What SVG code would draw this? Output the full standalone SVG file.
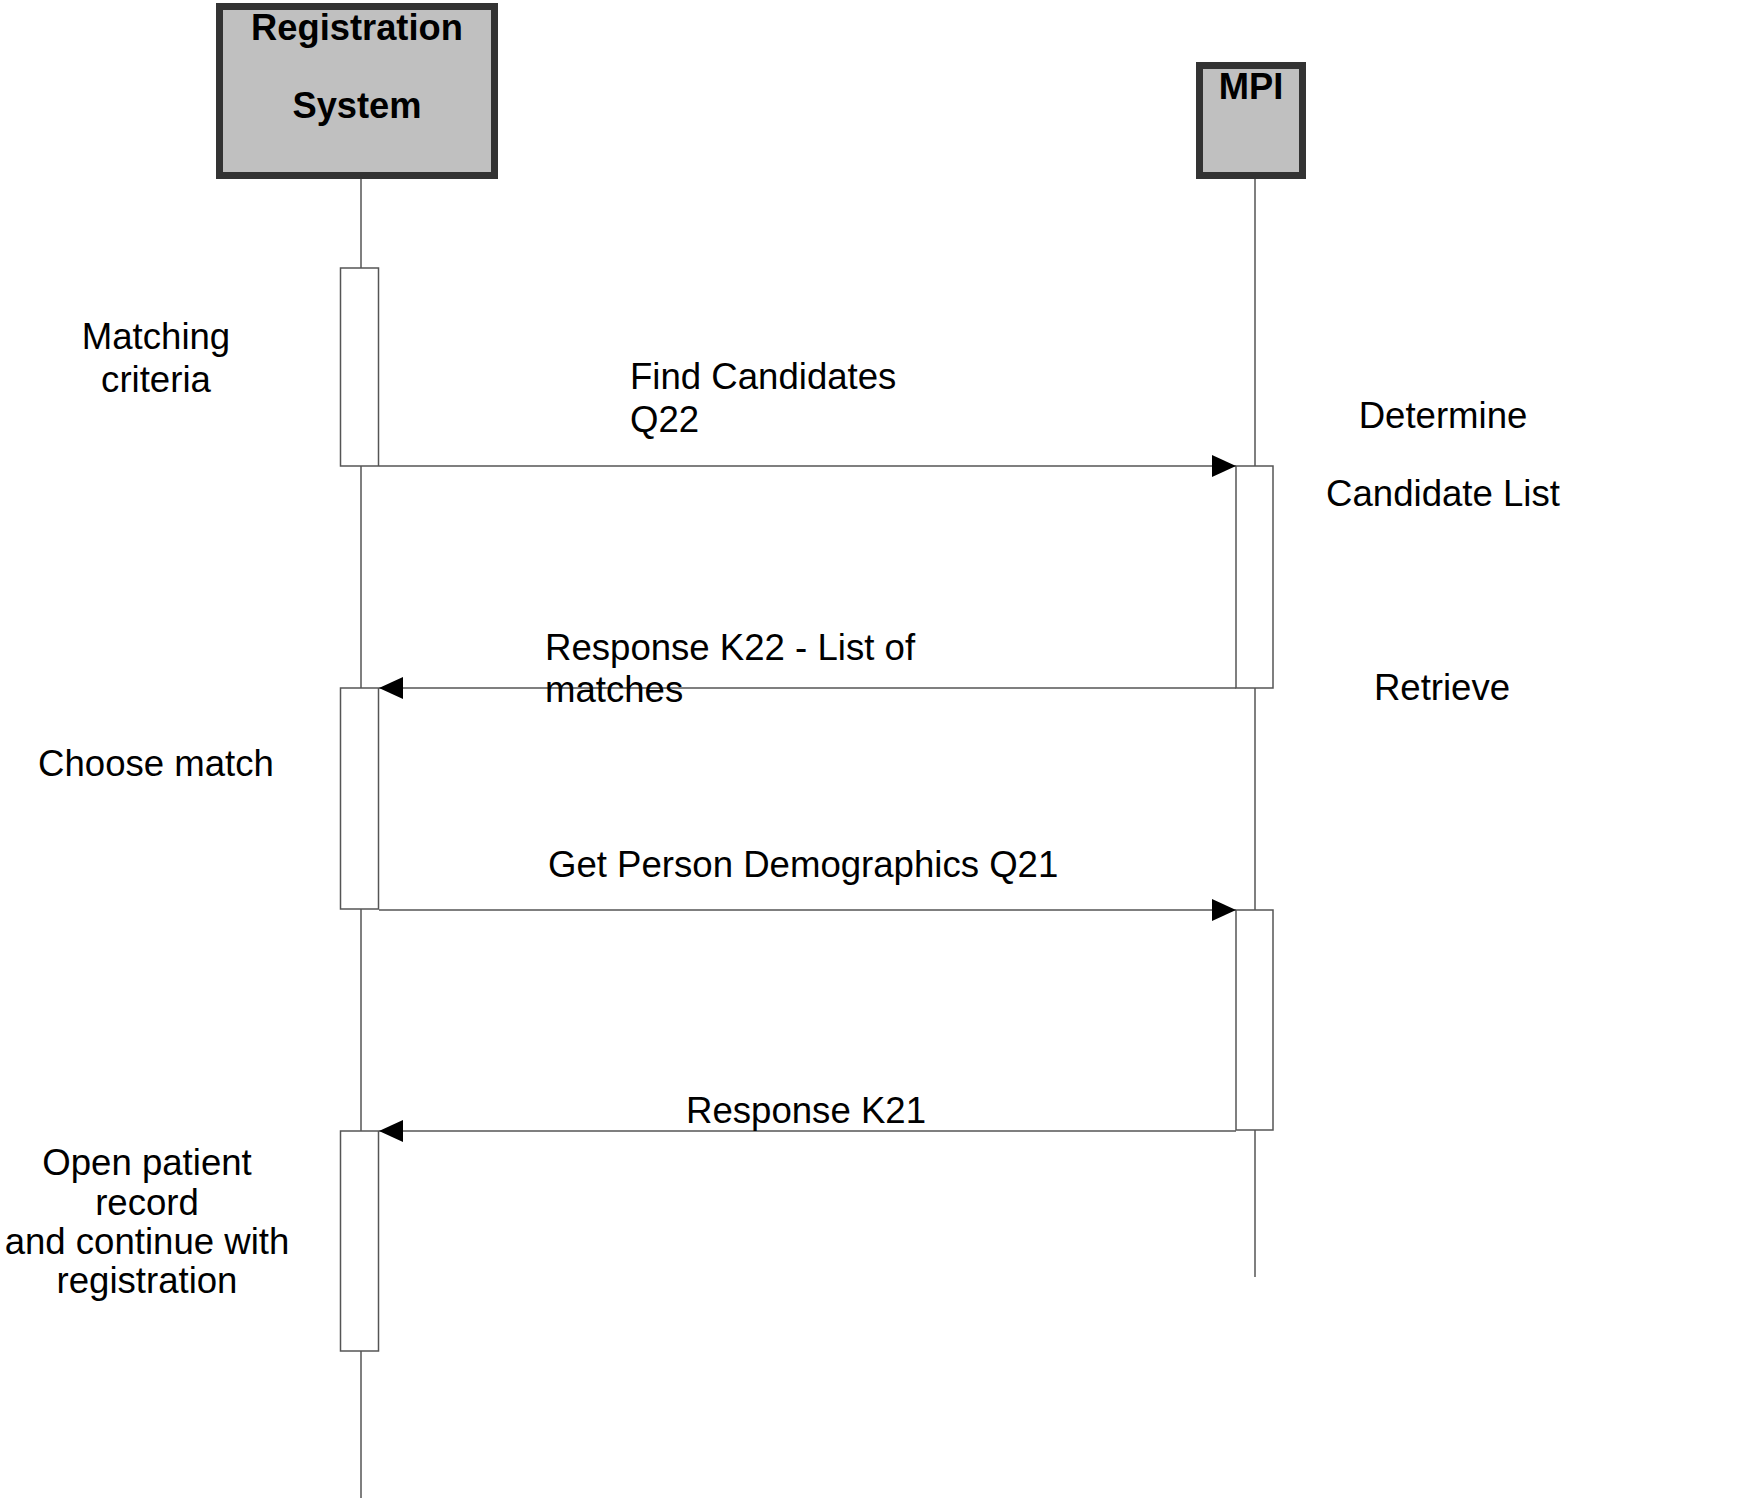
<svg xmlns="http://www.w3.org/2000/svg" width="1750" height="1503" viewBox="0 0 1750 1503">
<style>
.actor{fill:#c0c0c0;stroke:#333;stroke-width:7}
.life{stroke:#555;stroke-width:1.5;fill:none}
.act{fill:#fff;stroke:#555;stroke-width:1.5}
.msg{stroke:#555;stroke-width:1.5;fill:none}
.t{font-family:"Liberation Sans",Arial,sans-serif;font-size:36.6px;fill:#000}
.b{font-family:"Liberation Sans",Arial,sans-serif;font-size:36.3px;font-weight:bold;fill:#000}
</style>
<defs>
<marker id="ah" markerWidth="24" markerHeight="22" refX="24" refY="11" orient="auto" markerUnits="userSpaceOnUse">
<path d="M0,0 L24,11 L0,22 Z" fill="#000"/>
</marker>
</defs>
<rect width="1750" height="1503" fill="#fff"/>
<g id="lifelines">
<line class="life" x1="361" y1="179" x2="361" y2="1498"/>
<line class="life" x1="1255" y1="179" x2="1255" y2="1277"/>
</g>
<g id="registration-system">
<rect class="actor" x="219.5" y="6.5" width="275" height="169"/>
<text class="b" x="357" y="40" text-anchor="middle">Registration</text>
<text class="b" x="357" y="118" text-anchor="middle">System</text>
</g>
<g id="mpi">
<rect class="actor" x="1199.5" y="65.5" width="103" height="110"/>
<text class="b" x="1251" y="99" text-anchor="middle">MPI</text>
</g>
<g id="activations">
<rect class="act" x="340.5" y="268" width="38" height="198"/>
<rect class="act" x="340.5" y="688" width="38" height="221"/>
<rect class="act" x="340.5" y="1131" width="38" height="220"/>
<rect class="act" x="1236" y="466" width="37" height="222"/>
<rect class="act" x="1236" y="910" width="37" height="220"/>
</g>
<g id="connectors">
<line class="msg" x1="379" y1="466" x2="1236" y2="466" marker-end="url(#ah)"/>
<line class="msg" x1="1236" y1="688" x2="379" y2="688" marker-end="url(#ah)"/>
<line class="msg" x1="379" y1="910" x2="1236" y2="910" marker-end="url(#ah)"/>
<line class="msg" x1="1236" y1="1131" x2="379" y2="1131" marker-end="url(#ah)"/>
</g>
<g id="labels">
<text class="t" x="156" y="349" text-anchor="middle">Matching</text>
<text class="t" x="156" y="392" text-anchor="middle">criteria</text>
<text class="t" x="630" y="389">Find Candidates</text>
<text class="t" x="630" y="432">Q22</text>
<text class="t" x="1443" y="428" text-anchor="middle">Determine</text>
<text class="t" x="1443" y="506" text-anchor="middle">Candidate List</text>
<text class="t" x="545" y="660">Response K22 - List of</text>
<text class="t" x="545" y="702">matches</text>
<text class="t" x="1442" y="700" text-anchor="middle">Retrieve</text>
<text class="t" x="156" y="776" text-anchor="middle">Choose match</text>
<text class="t" x="548" y="877">Get Person Demographics Q21</text>
<text class="t" x="806" y="1123" text-anchor="middle">Response K21</text>
<text class="t" x="147" y="1175" text-anchor="middle">Open patient</text>
<text class="t" x="147" y="1215" text-anchor="middle">record</text>
<text class="t" x="147" y="1254" text-anchor="middle">and continue with</text>
<text class="t" x="147" y="1293" text-anchor="middle">registration</text>
</g>
</svg>
